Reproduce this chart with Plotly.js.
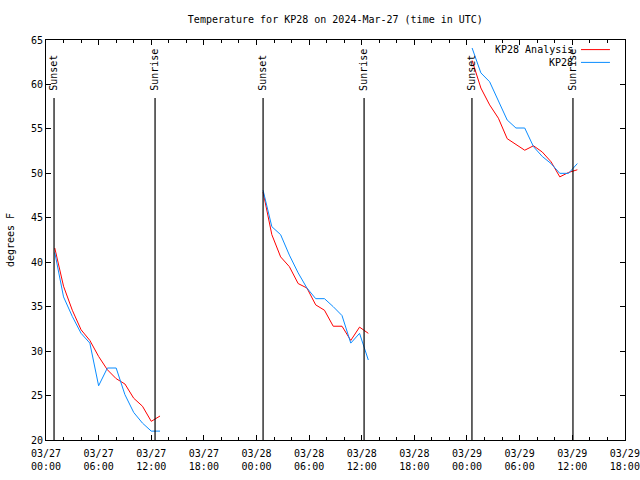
<!DOCTYPE html>
<html>
<head>
<meta charset="utf-8">
<script src="https://cdn.plot.ly/plotly-3.0.1.min.js"></script>
<style>html,body{margin:0;padding:0;background:#fff;}#chart{width:640px;height:480px;}</style>
</head>
<body>
<div id="chart"></div>
<script>
// ---- data ----
const times1 = ["2024-03-27 01:00","2024-03-27 02:00","2024-03-27 03:00","2024-03-27 04:00","2024-03-27 05:00","2024-03-27 06:00","2024-03-27 07:00","2024-03-27 08:00","2024-03-27 09:00","2024-03-27 10:00","2024-03-27 11:00","2024-03-27 12:00","2024-03-27 13:00"];
const analysis1 = [41.6, 37.3, 34.6, 32.4, 31.2, 29.4, 27.9, 26.9, 26.3, 24.7, 23.8, 22.1, 22.7];
const obs1      = [41.1, 36.1, 33.9, 32.0, 30.9, 26.1, 28.1, 28.1, 25.1, 23.1, 21.9, 21.0, 21.0];

const times2 = ["2024-03-28 00:45","2024-03-28 01:45","2024-03-28 02:45","2024-03-28 03:45","2024-03-28 04:45","2024-03-28 05:45","2024-03-28 06:45","2024-03-28 07:45","2024-03-28 08:45","2024-03-28 09:45","2024-03-28 10:45","2024-03-28 11:45","2024-03-28 12:45"];
const analysis2 = [47.9, 43.1, 40.6, 39.5, 37.6, 37.1, 35.2, 34.6, 32.8, 32.8, 31.2, 32.7, 32.0];
const obs2      = [48.1, 44.0, 43.1, 40.8, 38.8, 37.1, 35.9, 35.9, 35.0, 34.0, 30.9, 32.0, 29.0];

const times3 = ["2024-03-29 00:35","2024-03-29 01:35","2024-03-29 02:35","2024-03-29 03:35","2024-03-29 04:35","2024-03-29 05:35","2024-03-29 06:35","2024-03-29 07:35","2024-03-29 08:35","2024-03-29 09:35","2024-03-29 10:35","2024-03-29 11:35","2024-03-29 12:35"];
const analysis3 = [62.7, 59.6, 57.7, 56.2, 53.9, 53.2, 52.6, 53.1, 52.4, 51.3, 49.6, 50.1, 50.4];
const obs3      = [64.1, 61.3, 60.3, 58.1, 56.0, 55.1, 55.1, 53.0, 51.9, 51.1, 50.0, 50.0, 51.1];

const sunsetTimes  = ["2024-03-27 00:55","2024-03-28 00:45","2024-03-29 00:34"];
const sunriseTimes = ["2024-03-27 12:26","2024-03-28 12:16","2024-03-29 12:05"];

const seriesNames = ["KP28 Analysis", "KP28"];
const xRange = ["2024-03-27 00:00", "2024-03-29 18:01"];
const yRange = [20, 65];

// ---- styling ----
const FONT = "DejaVu Sans Mono, monospace";
const RED = "#ff0000";
const BLUE = "#0a8cff";

function seg(x, y, color, name) {
  return {x: x, y: y, type: "scatter", mode: "lines", name: name,
          line: {color: color, width: 1}, showlegend: false, hoverinfo: "skip"};
}

const traces = [
  seg(times1, analysis1, RED, seriesNames[0]),
  seg(times2, analysis2, RED, seriesNames[0]),
  seg(times3, analysis3, RED, seriesNames[0]),
  seg(times1, obs1, BLUE, seriesNames[1]),
  seg(times2, obs2, BLUE, seriesNames[1]),
  seg(times3, obs3, BLUE, seriesNames[1])
];

const shapes = [];
const annotations = [];
function sunMark(t, label) {
  shapes.push({type: "line", xref: "x", yref: "paper", x0: t, x1: t, y0: 0, y1: 0.855,
               line: {color: "#000", width: 1.2}});
  annotations.push({xref: "x", yref: "paper", x: t, y: 0.868, text: label, textangle: -90,
                    showarrow: false, xanchor: "center", yanchor: "bottom",
                    font: {family: FONT, size: 10, color: "#000"}});
}
sunsetTimes.forEach(t => sunMark(t, "Sunset"));
sunriseTimes.forEach(t => sunMark(t, "Sunrise"));

// custom gnuplot-style key (text then line sample)
const keyColors = [RED, BLUE];
const keyY = [0.976, 0.944];
seriesNames.forEach((n, i) => {
  annotations.push({xref: "paper", yref: "paper", x: 0.9136, y: keyY[i], text: n,
                    showarrow: false, xanchor: "right", yanchor: "middle",
                    font: {family: FONT, size: 10, color: "#000"}});
  shapes.push({type: "line", xref: "paper", yref: "paper", x0: 0.924, x1: 0.974,
               y0: keyY[i], y1: keyY[i], line: {color: keyColors[i], width: 1}});
});

const layout = {
  width: 640, height: 480,
  margin: {l: 46, r: 15, t: 40, b: 40, pad: 0},
  paper_bgcolor: "#fff", plot_bgcolor: "#fff",
  font: {family: FONT, size: 10, color: "#000"},
  showlegend: false,
  title: {text: "Temperature for KP28 on 2024-Mar-27 (time in UTC)",
          font: {family: FONT, size: 10, color: "#000"},
          x: 0.524, xanchor: "center", y: 0.96, yanchor: "middle"},
  xaxis: {
    type: "date", range: xRange, tick0: "2024-03-27 00:00", dtick: 6 * 3600 * 1000,
    tickformat: "%m/%d<br>%H:%M", ticks: "inside", ticklen: 5, tickcolor: "#000",
    ticklabelstandoff: 4,
    showline: true, linecolor: "#000", linewidth: 1, mirror: "allticks",
    showgrid: false, zeroline: false, fixedrange: true,
    tickfont: {family: FONT, size: 10, color: "#000"},
    minor: {dtick: 2 * 3600 * 1000, ticks: "inside", ticklen: 3, tickcolor: "#000", showgrid: false}
  },
  yaxis: {
    range: yRange, dtick: 5, tick0: 20, ticks: "inside", ticklen: 5, tickcolor: "#000",
    showline: true, linecolor: "#000", linewidth: 1, mirror: "allticks",
    showgrid: false, zeroline: false, fixedrange: true,
    tickfont: {family: FONT, size: 10, color: "#000"},
    title: {text: "degrees F", font: {family: FONT, size: 10, color: "#000"}, standoff: 14}
  },
  shapes: shapes,
  annotations: annotations
};

Plotly.newPlot("chart", traces, layout, {staticPlot: true, displayModeBar: false});
</script>
</body>
</html>
